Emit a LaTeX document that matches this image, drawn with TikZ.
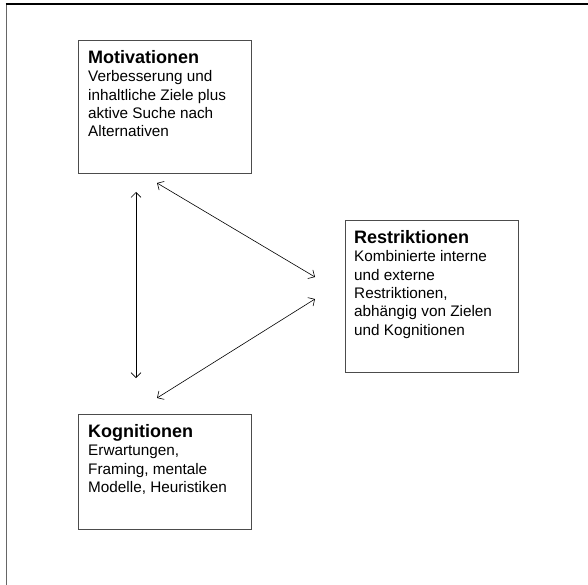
\documentclass[tikz,border=0pt]{standalone}
\usepackage{fontspec}
\setmainfont{Liberation Sans}
\usetikzlibrary{arrows.meta}

\tikzstyle{box} = [draw=black!70,line width=0.8pt,rectangle,anchor=north west,inner sep=0pt,minimum width=173pt]
\tikzstyle{boxtext} = [anchor=north west,align=left,inner sep=0pt,font=\fontsize{15.3}{18.4}\selectfont]
\tikzstyle{link} = [draw=black,line width=0.6pt,{Straight Barb[length=5pt,width=10pt]}-{Straight Barb[length=5pt,width=10pt]}]
\newcommand{\boxtitle}[1]{{\fontsize{18}{19}\selectfont\bfseries #1}}

\begin{document}
\begin{tikzpicture}[x=1pt,y=-1pt]
    \useasboundingbox (0,0) rectangle (588,585);
    \draw [black!60,line width=1pt] (6,585) -- (6,4);
    \draw [black,line width=1.3pt] (5.5,4) -- (588,4);

    \coordinate (M) at (78, 40);
    \coordinate (R) at (345, 220);
    \coordinate (K) at (78, 414);

    \node [style=box,minimum height=133pt] (mot) at (M) {};
    \node [style=box,minimum height=152pt] (res) at (R) {};
    \node [style=box,minimum height=115pt] (kog) at (K) {};

    \node [style=boxtext] (mot text) at ([shift={(10,10)}]M) {\boxtitle{Motivationen}\\
        Verbesserung und\\inhaltliche Ziele plus\\aktive Suche nach\\Alternativen};
    \node [style=boxtext] (res text) at ([shift={(9,10)}]R) {\boxtitle{Restriktionen}\\
        Kombinierte interne\\und externe\\Restriktionen,\\abhängig von Zielen\\und Kognitionen};
    \node [style=boxtext] (kog text) at ([shift={(10,10)}]K) {\boxtitle{Kognitionen}\\
        Erwartungen,\\Framing, mentale\\Modelle, Heuristiken};

    \coordinate (mot down) at (136, 192);
    \coordinate (kog up) at (136, 378);
    \coordinate (mot right) at (157, 183);
    \coordinate (res upper) at (315, 277);
    \coordinate (res lower) at (315, 299);
    \coordinate (kog right) at (157, 398);

    \draw [style=link] (mot down) -- (kog up);
    \draw [style=link] (mot right) -- (res upper);
    \draw [style=link] (res lower) -- (kog right);
\end{tikzpicture}
\end{document}
